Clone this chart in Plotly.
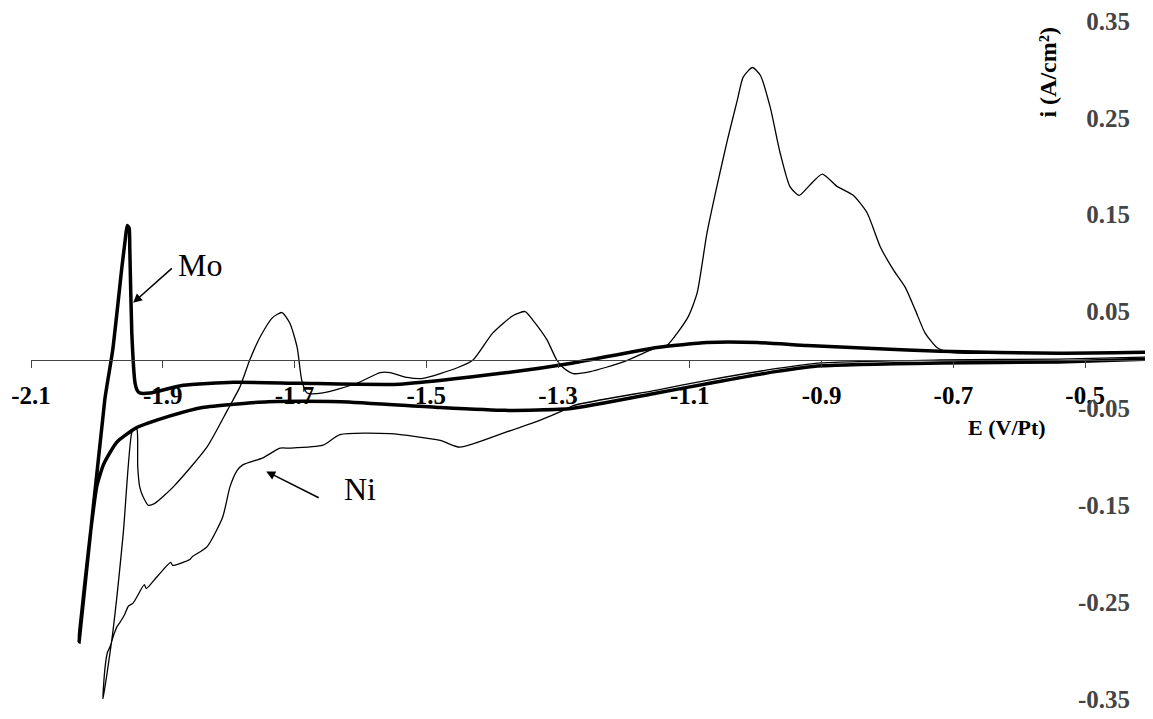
import plotly.graph_objects as go

# ---- data (E in V/Pt, i in A/cm2) ----
mo_E = [-0.40, -0.54, -0.72, -0.90, -0.97, -1.07, -1.15, -1.28, -1.38, -1.48, -1.63, -1.74,
        -1.84, -1.89, -1.94, -1.97, -1.99, -2.000, -2.010, -2.026, -2.027,
        -1.988, -1.976, -1.962, -1.957, -1.954, -1.951, -1.950, -1.947, -1.942, -1.939, -1.935,
        -1.919, -1.869, -1.793, -1.692, -1.540, -1.377, -1.277, -1.15, -1.074, -0.998, -0.922,
        -0.822, -0.72, -0.54, -0.40]
mo_i = [0.001, -0.002, -0.003, -0.006, -0.012, -0.024, -0.034, -0.050, -0.052, -0.049, -0.043, -0.043,
        -0.049, -0.058, -0.070, -0.085, -0.108, -0.130, -0.180, -0.280, -0.291,
        -0.041, 0.010, 0.096, 0.124, 0.139, 0.136, 0.114, 0.028, -0.024, -0.031, -0.034,
        -0.034, -0.026, -0.023, -0.024, -0.025, -0.013, -0.003, 0.013, 0.018, 0.018, 0.015,
        0.012, 0.009, 0.007, 0.008]

ni_E = [-0.40, -0.54, -0.72, -0.90, -0.97, -1.074, -1.15, -1.277, -1.292, -1.327, -1.377, -1.449,
        -1.479, -1.555, -1.631, -1.657, -1.707, -1.722, -1.748, -1.778, -1.787, -1.798, -1.809,
        -1.833, -1.855, -1.859, -1.885, -1.888, -1.909, -1.925, -1.928, -1.945, -1.952, -1.958,
        -1.965, -1.970, -1.974, -1.980, -1.984, -1.988, -1.991,
        -1.976, -1.960, -1.947, -1.942, -1.939, -1.938, -1.935, -1.930, -1.922, -1.912, -1.884,
        -1.833, -1.802, -1.783, -1.768, -1.752, -1.733, -1.719, -1.707, -1.696, -1.689, -1.681,
        -1.657, -1.605, -1.570, -1.555, -1.529, -1.505, -1.453, -1.429, -1.399, -1.368, -1.350,
        -1.338, -1.317, -1.302, -1.292, -1.277, -1.251, -1.201, -1.15, -1.135, -1.103, -1.089,
        -1.074, -1.059, -1.043, -1.028, -1.019, -1.005, -0.993, -0.978, -0.963, -0.948, -0.934,
        -0.920, -0.899, -0.876, -0.852, -0.831, -0.811, -0.791, -0.773, -0.758, -0.743, -0.725,
        -0.705, -0.54, -0.40]
ni_i = [0.003, 0.001, 0.000, -0.003, -0.009, -0.021, -0.031, -0.047, -0.052, -0.062, -0.074, -0.090,
        -0.083, -0.076, -0.077, -0.088, -0.091, -0.091, -0.101, -0.108, -0.114, -0.131, -0.162,
        -0.193, -0.203, -0.206, -0.212, -0.209, -0.224, -0.236, -0.232, -0.251, -0.254, -0.263,
        -0.271, -0.276, -0.283, -0.296, -0.302, -0.320, -0.351,
        -0.282, -0.179, -0.075, -0.070, -0.072, -0.110, -0.131, -0.141, -0.150, -0.148, -0.131,
        -0.090, -0.052, -0.028, 0.000, 0.024, 0.044, 0.049, 0.038, 0.013, -0.021, -0.034,
        -0.034, -0.024, -0.013, -0.013, -0.018, -0.019, -0.008, 0.000, 0.028, 0.046, 0.050,
        0.041, 0.021, 0.000, -0.008, -0.014, -0.012, -0.002, 0.013, 0.015, 0.044, 0.069,
        0.131, 0.179, 0.227, 0.268, 0.292, 0.302, 0.294, 0.261, 0.214, 0.179, 0.170,
        0.179, 0.192, 0.179, 0.170, 0.152, 0.117, 0.093, 0.075, 0.052, 0.028, 0.013,
        0.008, 0.007, 0.007]

x_ticks = [-2.1, -1.9, -1.7, -1.5, -1.3, -1.1, -0.9, -0.7, -0.5]
y_ticks = [0.35, 0.25, 0.15, 0.05, -0.05, -0.15, -0.25, -0.35]

FONT = "Times New Roman, Liberation Serif, serif"

fig = go.Figure()
fig.add_trace(go.Scatter(x=mo_E, y=mo_i, mode="lines", name="Mo",
                         line=dict(color="black", width=3.5, shape="spline", smoothing=0.5)))
fig.add_trace(go.Scatter(x=ni_E, y=ni_i, mode="lines", name="Ni",
                         line=dict(color="black", width=1.3, shape="spline", smoothing=0.6)))

# page body has an 8px default margin, so the figure is sized/offset to compensate
fig.update_layout(
    width=1145, height=711,
    margin=dict(l=23, r=2, t=13, b=20, autoexpand=False),
    paper_bgcolor="white", plot_bgcolor="white",
    showlegend=False,
    font=dict(family=FONT, color="black"),
    xaxis=dict(range=[-2.1, -0.4], tickvals=x_ticks, ticktext=[f"{v:.1f}" for v in x_ticks],
               anchor="free", position=0.5, showline=True, linecolor="#444", linewidth=1,
               ticks="outside", ticklen=7, tickcolor="#444", showgrid=False, zeroline=False,
               automargin=False,
               tickfont=dict(family=FONT, size=25, weight="bold"), ticklabelstandoff=6),
    yaxis=dict(range=[-0.35, 0.35], tickvals=y_ticks, ticktext=[f"{v:.2f}" for v in y_ticks],
               side="right", showline=True, linecolor="black", linewidth=1,
               ticks="inside", ticklen=5, ticklabelposition="inside", ticklabelstandoff=18,
               ticklabeloverflow="allow", automargin=False,
               showgrid=False, zeroline=False,
               tickfont=dict(family=FONT, size=25, weight="bold")),
)

ann = [
    dict(x=-1.945, y=0.059, ax=-1.884, ay=0.096, axref="x", ayref="y", text="",
         showarrow=True, arrowhead=2, arrowsize=1.2, arrowwidth=1.5, arrowcolor="black"),
    dict(x=-1.843, y=0.098, text="Mo", showarrow=False,
         font=dict(family=FONT, size=32, color="black")),
    dict(x=-1.743, y=-0.115, ax=-1.661, ay=-0.143, axref="x", ayref="y", text="",
         showarrow=True, arrowhead=2, arrowsize=1.2, arrowwidth=1.5, arrowcolor="black"),
    dict(x=-1.601, y=-0.133, text="Ni", showarrow=False,
         font=dict(family=FONT, size=32, color="black")),
    dict(x=-0.618, y=-0.070, text="E (V/Pt)", showarrow=False,
         font=dict(family=FONT, size=22, color="black", weight="bold")),
    dict(x=-0.556, y=0.297, text="i (A/cm²)", showarrow=False, textangle=-90,
         font=dict(family=FONT, size=24, color="black", weight="bold")),
]
fig.update_layout(annotations=ann)

fig.write_html("out.html")
